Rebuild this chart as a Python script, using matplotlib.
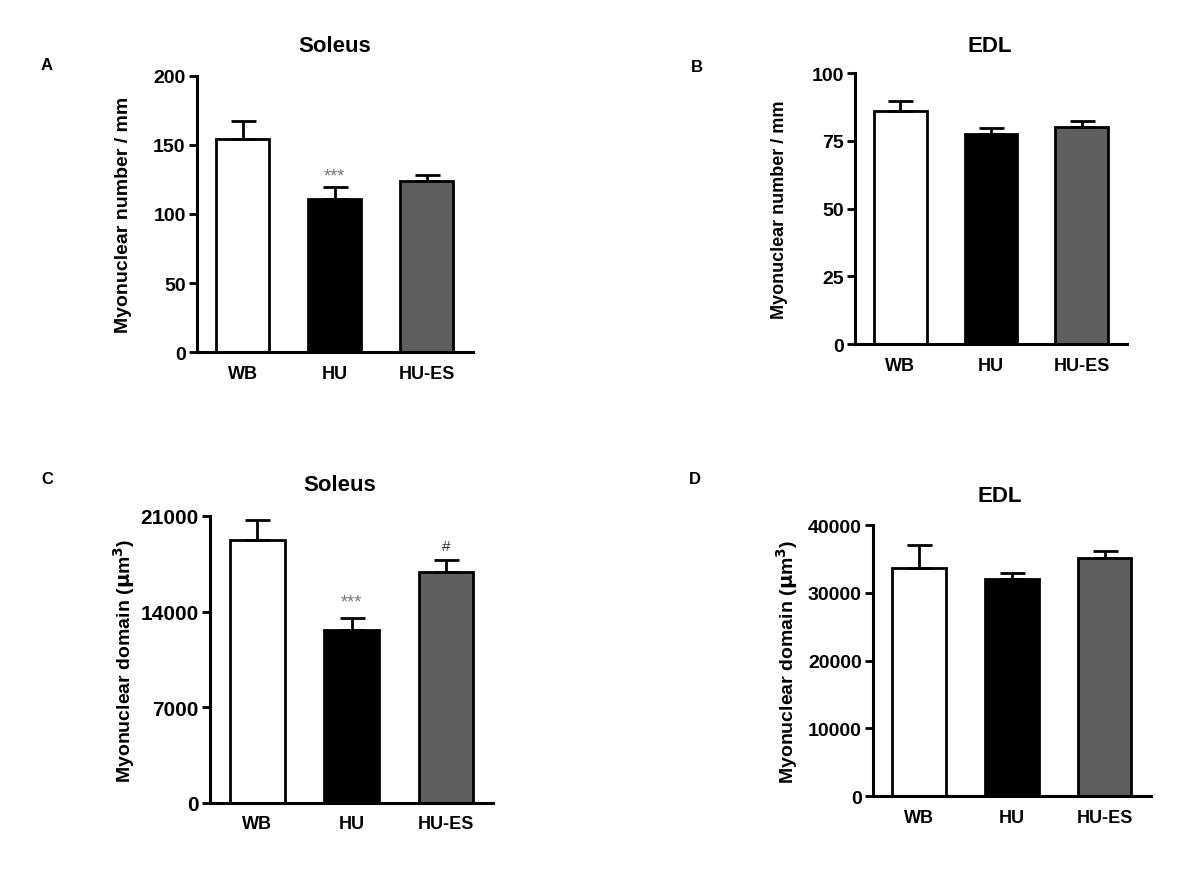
import numpy as np
import matplotlib.pyplot as plt

plt.rcParams['font.family'] = ['Liberation Sans', 'DejaVu Sans']
plt.rcParams['font.weight'] = 'bold'

groups = ['WB', 'HU', 'HU-ES']
bar_colors = ['white', 'black', '#5f5f5f']

# A: soleus myonuclear number
sol_num = [154.5, 110.5, 123.7]
sol_num_err = [12.5, 9.0, 4.3]
# B: EDL myonuclear number
edl_num = [86.1, 77.6, 80.0]
edl_num_err = [3.5, 2.2, 2.4]
# C: soleus myonuclear domain
sol_dom = [19250, 12670, 16860]
sol_dom_err = [1460, 860, 920]
# D: EDL myonuclear domain
edl_dom = [33710, 32040, 35090]
edl_dom_err = [3300, 840, 1120]

fig = plt.figure(figsize=(12, 8.7), dpi=100)

def panel(rect, vals, errs, ylabel, yticks, ylim, ylab_size, ylab_x, tick_size):
    ax = fig.add_axes(rect)
    x = np.arange(len(groups))
    ax.bar(x, vals, width=0.58, color=bar_colors, edgecolor='black', linewidth=2,
           yerr=[np.zeros(len(errs)), errs], error_kw=dict(ecolor='black', elinewidth=2,
           capsize=9, capthick=2), zorder=2)
    ax.set_xlim(-0.5, 2.5)
    ax.set_ylim(*ylim)
    ax.set_yticks(yticks)
    ax.set_xticks(x)
    ax.set_xticklabels(groups, fontsize=13, fontweight='bold')
    ax.tick_params(axis='x', length=0, pad=9)
    ax.tick_params(axis='y', length=6, width=2, labelsize=tick_size, pad=2)
    for lab in ax.get_yticklabels():
        lab.set_fontweight('bold')
    for s in ['top', 'right']:
        ax.spines[s].set_visible(False)
    for s in ['left', 'bottom']:
        ax.spines[s].set_linewidth(2.2)
    ax.set_ylabel(ylabel, fontsize=ylab_size, fontweight='bold')
    ax.yaxis.set_label_coords(ylab_x, 0.5)
    return ax

axA = panel([0.164, 0.594, 0.230, 0.318], sol_num, sol_num_err,
            'Myonuclear number / mm', [0, 50, 100, 150, 200], (0, 200), 14, -0.236, 14)
axB = panel([0.7125, 0.6034, 0.2265, 0.3112], edl_num, edl_num_err,
            'Myonuclear number / mm', [0, 25, 50, 75, 100], (0, 100), 13, -0.246, 14)
axC = panel([0.175, 0.0759, 0.236, 0.330], sol_dom, sol_dom_err,
            r'Myonuclear domain ($\mathbf{\mu}$m$^\mathbf{3}$)', [0, 7000, 14000, 21000],
            (0, 21000), 14, -0.258, 15)
axD = panel([0.7275, 0.0836, 0.2315, 0.3118], edl_dom, edl_dom_err,
            r'Myonuclear domain ($\mathbf{\mu}$m$^\mathbf{3}$)', [0, 10000, 20000, 30000, 40000],
            (0, 40000), 14, -0.263, 14)

# significance marks
axA.text(1, sol_num[1] + sol_num_err[1] + 8, '***', ha='center', va='center',
         fontsize=13, color='#777777', fontweight='normal')
axC.text(1, sol_dom[1] + sol_dom_err[1] + 1150, '***', ha='center', va='center',
         fontsize=13, color='#777777', fontweight='normal')
axC.text(2, sol_dom[2] + sol_dom_err[2] + 1000, '#', ha='center', va='center',
         fontsize=11, color='#333333', fontweight='normal')

titles = ['Soleus', 'EDL', 'Soleus', 'EDL']
title_pos = [(335, 47), (990, 47), (340, 486), (1000, 497)]
for t, (px, py) in zip(titles, title_pos):
    fig.text(px / 1200, 1 - py / 870, t, fontsize=16, fontweight='bold',
             ha='center', va='center')

for lbl, (px, py) in zip('ABCD', [(47, 65), (697, 67), (47, 480), (695, 480)]):
    fig.text(px / 1200, 1 - py / 870, lbl, fontsize=12, fontweight='bold',
             ha='center', va='center')

fig.savefig('out.png', dpi=100)
